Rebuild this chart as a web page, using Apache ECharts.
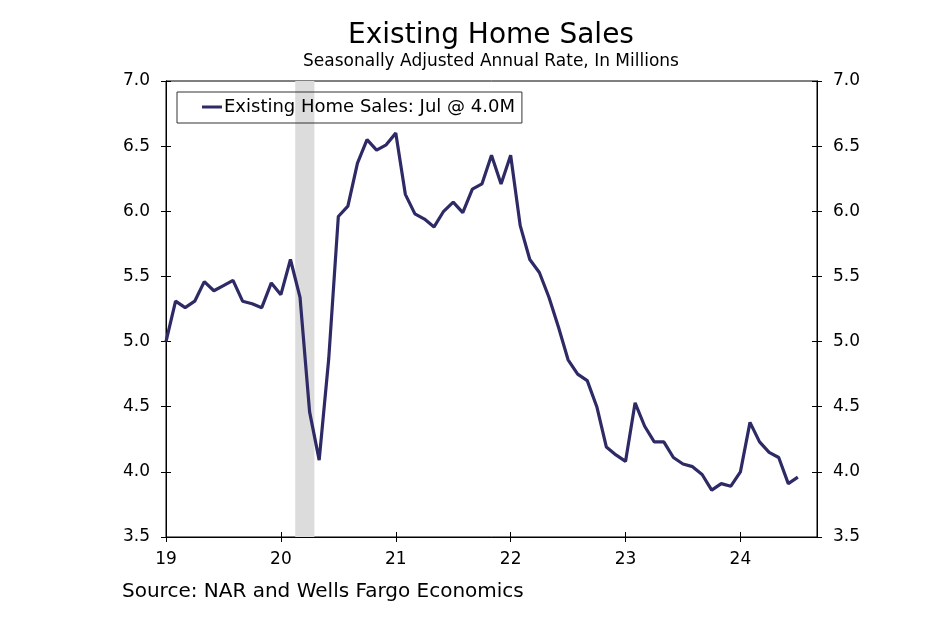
<!DOCTYPE html>
<html>
<head>
<meta charset="utf-8">
<script src="https://cdn.jsdelivr.net/npm/echarts@6/dist/echarts.min.js"></script>
<style>html,body{margin:0;padding:0;background:#fff}#c{width:950px;height:630px}</style>
</head>
<body>
<div id="c"></div>
<script>
// Monthly data, Jan 2019 .. Jul 2024 (millions, SAAR)
var startYear = 2019;
var sales = [
  5.00, 5.31, 5.26, 5.31, 5.46, 5.39, 5.43, 5.47, 5.31, 5.29, 5.26, 5.45,
  5.36, 5.63, 5.34, 4.46, 4.09, 4.87, 5.96, 6.04, 6.37, 6.55, 6.47, 6.51,
  6.60, 6.13, 5.98, 5.94, 5.88, 6.00, 6.07, 5.99, 6.17, 6.21, 6.43, 6.21,
  6.43, 5.89, 5.63, 5.53, 5.34, 5.11, 4.86, 4.75, 4.70, 4.50, 4.19, 4.13,
  4.08, 4.53, 4.35, 4.23, 4.23, 4.11, 4.06, 4.04, 3.98, 3.86, 3.91, 3.89,
  4.00, 4.38, 4.23, 4.15, 4.11, 3.91, 3.96
];
var yearLabels = ['19', '20', '21', '22', '23', '24'];
var yTicks = [3.5, 4.0, 4.5, 5.0, 5.5, 6.0, 6.5, 7.0];
// Recession shading, in month index units (Feb 2020 .. Apr 2020)
var recession = [13.5, 15.5];
var xMax = 68; // Sep 2024

var seriesData = sales.map(function (v, i) { return [i, v]; });
var yearTickVals = yearLabels.map(function (l, i) { return i * 12; });

var chart = echarts.init(document.getElementById('c'), null, { renderer: 'canvas' });
var FONT = 'DejaVu Sans';
var axisLbl = { color: '#000', fontSize: 17, fontFamily: FONT };

function yAx(pos, inside, showLabel) {
  return {
    type: 'value', position: pos, min: 3.5, max: 7.0, interval: 0.5,
    axisLine: { show: true, lineStyle: { color: '#000', width: 1 } },
    axisTick: { show: true, inside: inside, length: 5, lineStyle: { color: '#000', width: 1 } },
    axisLabel: Object.assign({ show: showLabel, margin: 16, formatter: function (v) { return v.toFixed(1); } }, axisLbl),
    splitLine: { show: false }
  };
}
function xAx(inside, showLabel) {
  return {
    type: 'value', position: 'bottom', min: 0, max: xMax,
    axisLine: { show: true, onZero: false, lineStyle: { color: '#000', width: 1 } },
    axisTick: { show: true, inside: inside, length: 5, customValues: yearTickVals, lineStyle: { color: '#000', width: 1 } },
    axisLabel: Object.assign({ show: showLabel, margin: 14, customValues: yearTickVals,
      formatter: function (v) { return yearLabels[Math.round(v / 12)] || ''; } }, axisLbl),
    splitLine: { show: false }
  };
}

chart.setOption({
  animation: false,
  backgroundColor: '#fff',
  grid: { left: 166, right: 133, top: 81, bottom: 93, show: true, borderColor: '#000', borderWidth: 1, backgroundColor: 'transparent' },
  xAxis: [xAx(false, true), xAx(true, false)],
  yAxis: [yAx('left', false, true), yAx('left', true, false), yAx('right', false, true), yAx('right', true, false)],
  legend: {
    left: 177, top: 92,
    orient: 'horizontal',
    borderColor: '#333', borderWidth: 1,
    padding: [6, 7, 7, 25],
    itemWidth: 20, itemHeight: 3,
    icon: 'rect',
    textStyle: { color: '#000', fontSize: 18, fontFamily: FONT, padding: [0, 0, 0, -3] },
    data: [{ name: 'Existing Home Sales: Jul @ 4.0M', itemStyle: { color: '#2d2a66' } }]
  },
  graphic: [
    { type: 'text', x: 491, y: 36, style: { text: 'Existing Home Sales', fill: '#000', font: '28px "DejaVu Sans"', textAlign: 'center', textVerticalAlign: 'middle' } },
    { type: 'text', x: 491, y: 62, style: { text: 'Seasonally Adjusted Annual Rate, In Millions', fill: '#000', font: '17px "DejaVu Sans"', textAlign: 'center', textVerticalAlign: 'middle' } },
    { type: 'text', x: 122, y: 592, style: { text: 'Source: NAR and Wells Fargo Economics', fill: '#000', font: '20px "DejaVu Sans"', textAlign: 'left', textVerticalAlign: 'middle' } }
  ],
  series: [{
    name: 'Existing Home Sales: Jul @ 4.0M',
    type: 'line',
    xAxisIndex: 0, yAxisIndex: 0,
    data: seriesData,
    showSymbol: false, symbol: 'none',
    lineStyle: { color: '#2d2a66', width: 3.2 },
    itemStyle: { color: '#2d2a66' },
    z: 5,
    markArea: {
      silent: true,
      itemStyle: { color: '#dcdcdc' },
      data: [[{ xAxis: recession[0], yAxis: 3.5 }, { xAxis: recession[1], yAxis: 7.0 }]]
    }
  }]
});
</script>
</body>
</html>
